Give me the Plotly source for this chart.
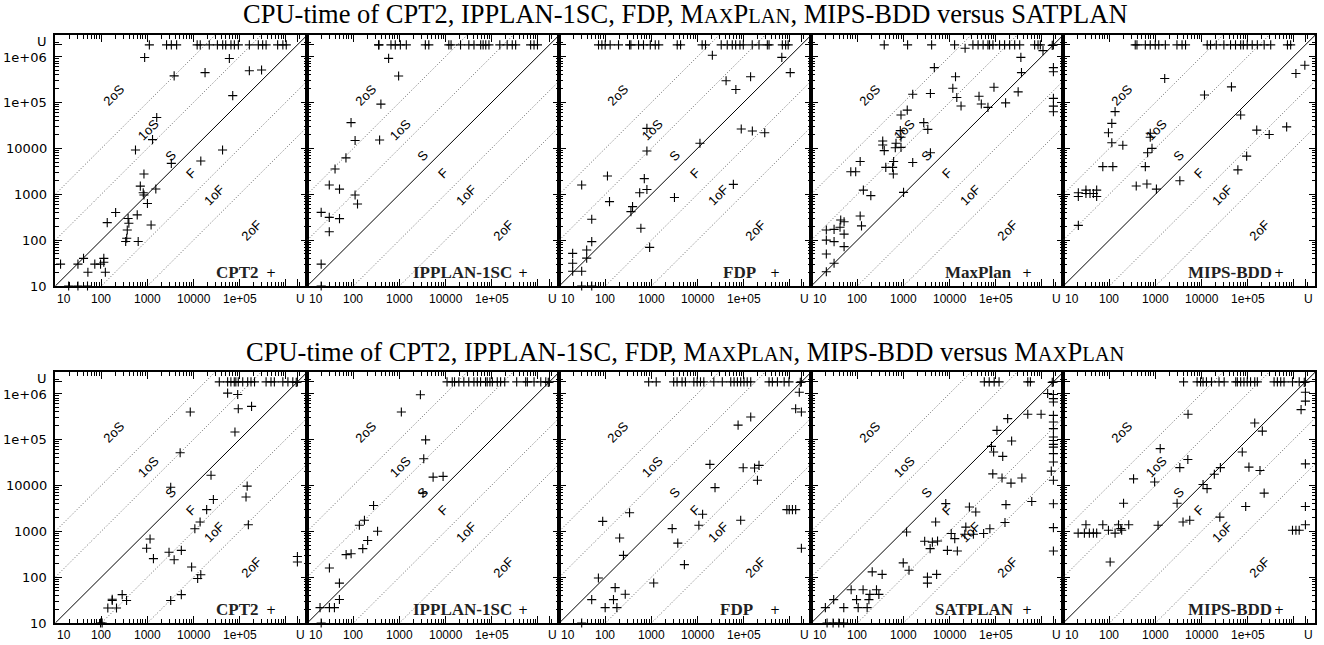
import math
import plotly.graph_objects as go

# ---------------- constants / tick labels ----------------
U = 1.8e6                      # "unsolved" value
AX_MIN_LOG, AX_MAX_LOG = 1.0, 6.47
major_vals = [10, 100, 1000, 10000, 100000, 1000000, U]
y_tick_text = ["10", "100", "1000", "10000", "1e+05", "1e+06", "U"]
x_tick_text = ["10", "100", "1000", "10000", "1e+05", "", "U"]
minor_vals = [m * 10 ** e for e in range(1, 7) for m in range(2, 10) if m * 10 ** e < 2.9e6]

ratio_lines = [100, 10, 1, 0.1, 0.01]
region_labels = ["2oS", "1oS", "S", "F", "1oF", "2oF"]

SC = '<span style="font-size:20.5px">'
top_title = f"CPU-time of CPT2, IPPLAN-1SC, FDP, M{SC}AX</span>P{SC}LAN</span>, MIPS-BDD versus SATPLAN"
bot_title = (f"CPU-time of CPT2, IPPLAN-1SC, FDP, M{SC}AX</span>P{SC}LAN</span>, MIPS-BDD versus "
             f"M{SC}AX</span>P{SC}LAN</span>")
top_names = ["CPT2", "IPPLAN-1SC", "FDP", "MaxPlan", "MIPS-BDD"]
bot_names = ["CPT2", "IPPLAN-1SC", "FDP", "SATPLAN", "MIPS-BDD"]

# ---------------- data: top row (versus SATPLAN) ----------------
# *_xu: x values of points lying on the y = U row ; *_yu: y values of points on the x = U column
t1_xu = [1100, 2600, 3300, 4300, 12000, 14000, 22000, 33000, 43000, 50000, 65000, 77000, 94000,
         163000, 255000, 317000, 376000, 670000, 870000, 1030000]
t1_yu = []
t1_x = [870, 3800, 60000, 17800, 163000, 300000, 71000, 1590, 1290, 550, 3300, 14400, 42700, 840, 700,
        810, 840, 1520, 1000, 204, 134, 380, 395, 600, 365, 355, 337, 630, 1200, 41, 13, 31, 72, 96, 113,
        113, 51, 122, 19.5, 31, 50]
t1_y = [955000, 380000, 910000, 447000, 490000, 510000, 141000, 47000, 15500, 9200, 4700, 5300, 9200, 2760,
        1500, 1080, 960, 1300, 630, 400, 240, 295, 233, 355, 166, 110, 93, 93, 214, 40, 30, 30, 30, 30, 40,
        33, 20, 20, 10, 10, 10]

t2_xu = [352, 360, 655, 812, 1047, 1410, 3650, 4340, 11800, 13200, 21200, 32100, 41500, 58000, 65500,
         74800, 87700, 151000, 218000, 281000, 333000, 704000, 834000, 990000]
t2_yu = []
t2_x = [582, 960, 396, 89, 109, 371, 69, 40, 30, 50, 109, 123, 20, 30, 50, 30, 20, 20]
t2_y = [912000, 376000, 92000, 36300, 14800, 15200, 6200, 3550, 1590, 1290, 960, 612, 402, 313, 294, 152,
        30, 10]

t3_xu = [71, 84, 99, 127, 193, 335, 358, 525, 672, 944, 1210, 1440, 3630, 4290, 12600, 14900, 32700,
         44200, 56800, 67400, 83400, 98500, 154000, 216000, 328000, 357000, 694000, 818000, 929000]
t3_yu = []
t3_x = [21000, 676000, 1030000, 41700, 142000, 68000, 89000, 155000, 288000, 797, 797, 11300, 111, 30.6,
        700, 797, 556, 3160, 60000, 123, 389, 359, 50.6, 590, 915, 50.6, 39.3, 39.3, 19.5, 19.5, 19.5,
        30.6, 30.6, 50.6]
t3_y = [1070000, 958000, 447000, 297000, 362000, 192000, 26300, 23800, 21900, 27200, 8740, 12900, 2500,
        1590, 2190, 1270, 1080, 850, 1640, 690, 537, 417, 284, 181, 69.6, 92.5, 60.9, 40.6, 51.5, 31.2,
        20.9, 20.9, 10, 10]

t4_xu = [383, 1230, 4090, 12900, 32200, 41700, 53600, 68300, 74000, 87600, 122000, 157000, 202000,
         260000, 334000, 704000, 834000, 937000, 1800000]
t4_yu = [575000, 468000, 123000, 83000, 62500]
t4_x = [1700000, 21800, 1070000, 4680, 354000, 365000, 13500, 1590, 3850, 11800, 92300, 309000, 14400,
        43700, 49000, 68300, 165000, 17800, 1210, 885, 855, 885, 690, 665, 885, 355, 355, 383, 2760, 3380,
        3850, 1590, 115, 72, 92, 414, 612, 582, 603, 135, 196, 1005, 115, 123, 21.2, 31.2, 42, 43.5, 51.5,
        51.5, 21.2, 31.2, 51.5, 21.2, 31.2, 21.2]
t4_y = [1750000, 1520000, 1350000, 575000, 958000, 447000, 362000, 151000, 157000, 204000, 214000,
        170000, 128000, 137000, 92200, 78000, 98000, 83500, 67900, 53100, 24300, 17400, 12900, 10300,
        10500, 14400, 11800, 8900, 36300, 25900, 8040, 4900, 5160, 3090, 3090, 3850, 5160, 3850, 2750,
        1230, 930, 1100, 335, 204, 166, 171, 190, 274, 252, 135, 100, 92.5, 72, 50, 31.2, 20.5]

t5_xu = [364, 397, 603, 771, 990, 1180, 1640, 2930, 3780, 4500, 13300, 15700, 20900, 30600, 42700,
         54700, 70800, 80800, 98300, 126000, 163000, 229000, 318000, 734000, 861000]
t5_yu = []
t5_x = [1750000, 1120000, 1590, 11600, 44700, 70800, 158000, 295000, 705000, 133, 113, 95.5, 113, 196,
        771, 771, 842, 676, 603, 72, 119, 383, 653, 1050, 3390, 61600, 95500, 21.2, 10, 21.2, 21.2, 31,
        31, 38, 45, 53, 53]
t5_y = [645000, 427000, 332000, 145000, 219000, 53100, 25000, 20000, 29400, 63000, 35000, 21800, 13200,
        11700, 21400, 17400, 10000, 8030, 4000, 4000, 4000, 1510, 1670, 1290, 1970, 3390, 6770, 209, 890,
        1080, 890, 1230, 1040, 1040, 1040, 1230, 890]

# ---------------- data: bottom row (versus MaxPlan) ----------------
b1_xu = [36300, 55000, 64800, 76700, 83000, 93700, 117000, 150000, 177000, 211000, 376000, 481000,
         569000, 869000, 1120000, 1430000, 1800000]
b1_yu = [282, 214]
b1_x = [1700000, 55000, 91000, 93700, 182000, 8500, 79400, 5130, 24000, 3200, 146000, 138000, 27000,
        19300, 13900, 10700, 155000, 1140, 960, 1350, 2940, 5440, 3800, 9100, 12300, 14400, 3200, 5440,
        172, 172, 138, 213, 283, 352, 96, 104]
b1_y = [1750000, 1020000, 955000, 468000, 525000, 398000, 145000, 51500, 16600, 9100, 9600, 5560, 4900,
        2960, 1590, 1130, 1380, 676, 425, 253, 347, 383, 239, 166, 93, 113, 31, 41.5, 31, 33, 21.2, 21.2,
        41.5, 31, 10, 10]

b2_xu = [10800, 14000, 15700, 19500, 25000, 32000, 41400, 49000, 57700, 74000, 80300, 92000, 104000,
         133000, 157000, 193000, 351000, 550000, 598000, 835000, 1170000, 1500000, 1800000]
b2_yu = []
b2_x = [1700000, 2850, 1100, 3700, 3370, 5380, 8860, 3250, 274, 135, 174, 335, 204, 160, 69.6, 89.3,
        30.2, 49.8, 49.8, 18.9, 30.2, 38.8, 20]
b2_y = [1750000, 944000, 396000, 98000, 38000, 15100, 15700, 6760, 3630, 1350, 1740, 1000, 630, 417,
        309, 324, 158, 74, 32.4, 21.6, 21.6, 21.6, 10]

b3_xu = [870, 1270, 3040, 3600, 4620, 5460, 8330, 9830, 11600, 13700, 22600, 34500, 52700, 62200, 73400,
         86600, 102000, 120000, 143000, 357000, 421000, 543000, 760000, 966000, 1800000]
b3_yu = [396000, 427]
b3_x = [1700000, 1620000, 1350000, 143000, 76000, 18600, 98000, 173000, 216000, 200000, 24000, 335,
        87.5, 12900, 10700, 86600, 2820, 870000, 980000, 1150000, 1350000, 204, 247, 3730, 5190, 70.6,
        163, 1120, 270, 50.5, 150, 99, 178, 30.6]
b3_y = [1750000, 1070000, 468000, 309000, 205000, 28700, 24200, 23800, 27200, 12900, 8900, 2520, 1640,
        2350, 1350, 1740, 1140, 2960, 2960, 2960, 2960, 710, 297, 550, 187, 96, 59, 74.4, 42.2, 32.3,
        32.3, 21.6, 21.6, 10]

b4_xu = [56900, 72700, 93200, 119000, 500000, 570000, 1800000]
b4_yu = [955000, 776000, 653000, 334000, 240000, 172000, 113000, 95000, 78000, 68000, 49000, 32300,
         12900, 3980, 1200, 372]
b4_x = [1700000, 1350000, 500000, 972000, 183000, 107000, 223000, 81400, 90700, 143000, 87000, 138000,
        216000, 372000, 1620000, 610000, 168000, 160000, 8300, 27000, 37200, 5000, 22600, 10900, 13000,
        55000, 75200, 33000, 21500, 1170, 2890, 4250, 5500, 3800, 9000, 14800, 990, 1320, 210, 345, 3320,
        3320, 5250, 73.3, 133, 260, 293, 187, 96, 178, 30.6, 20.2, 50.7, 104, 163, 22, 29.7, 39.5, 50.5]
b4_y = [1750000, 1000000, 353000, 353000, 285000, 158000, 92200, 70800, 53100, 42700, 17800, 14400,
        11200, 14400, 20400, 4460, 3800, 1550, 4000, 3380, 2620, 1590, 1230, 890, 690, 890, 1130, 860, 860,
        960, 605, 580, 613, 417, 383, 372, 204, 141, 130, 115, 100, 74, 115, 53, 53, 53, 42, 42, 32.3,
        32.3, 32.3, 21.6, 21.6, 21.6, 21.6, 10, 10, 10, 10]

b5_xu = [4080, 8030, 9530, 10800, 12800, 16500, 24000, 31000, 55400, 60000, 70800, 83400, 98300, 116000,
         143000, 163000, 376000, 444000, 524000, 618000, 944000, 1320000, 1800000]
b5_yu = [1070000, 686000, 29400, 3460, 1380]
b5_x = [1700000, 1450000, 5100, 143000, 209000, 1270, 5050, 3380, 960, 335, 76700, 107000, 186000,
        25700, 19000, 10800, 13200, 229000, 2950, 91000, 25000, 3970, 5560, 203, 1140, 944000, 1120000,
        1320000, 31, 72, 158, 263, 21, 28.7, 36.8, 45, 53, 95.5, 133, 177, 185, 104]
b5_y = [1750000, 447000, 355000, 229000, 152000, 63200, 36700, 24300, 11800, 13800, 53100, 25000, 21100,
        24300, 17400, 10400, 8470, 6760, 4070, 3460, 2030, 1590, 1730, 4070, 1350, 1050, 1050, 1050, 1380,
        1380, 1380, 1380, 910, 910, 910, 910, 910, 1050, 910, 1140, 1050, 214]

panels = [
    (t1_x, t1_y, t1_xu, t1_yu), (t2_x, t2_y, t2_xu, t2_yu), (t3_x, t3_y, t3_xu, t3_yu),
    (t4_x, t4_y, t4_xu, t4_yu), (t5_x, t5_y, t5_xu, t5_yu),
    (b1_x, b1_y, b1_xu, b1_yu), (b2_x, b2_y, b2_xu, b2_yu), (b3_x, b3_y, b3_xu, b3_yu),
    (b4_x, b4_y, b4_xu, b4_yu), (b5_x, b5_y, b5_xu, b5_yu),
]
panel_names = top_names + bot_names

# ---------------- layout geometry (pixels) ----------------
W, H = 1324, 645
PANEL_LEFT0, PANEL_W = 55.3, 252.0
ROW_TOP = [35.0, 372.0]
ROW_BOT = [286.0, 623.0]
XLABEL_Y = [298.5, 635.0]
TITLE_Y = [14.0, 352.0]
YLABEL_RIGHT = 49.0
# right end of each panel's name (fraction of panel width)
name_end = [0.808, 0.811, 0.779, 0.796, 0.830, 0.808, 0.811, 0.770, 0.803, 0.828]
# region label positions (log10 x, log10 y)
region_pos = [(2.26, 5.16), (3.03, 4.40), (3.51, 3.85), (3.94, 3.46), (4.44, 2.98), (5.25, 2.22)]

fig = go.Figure()
annotations = []
layout_axes = {}

line_x = [10 ** AX_MIN_LOG, 10 ** AX_MAX_LOG]

for k in range(1, 11):
    idx = k - 1
    row, col = divmod(idx, 5)
    xs, ys, xu, yu = panels[idx]
    xa = "x" if k == 1 else f"x{k}"
    ya = "y" if k == 1 else f"y{k}"
    xname = "xaxis" if k == 1 else f"xaxis{k}"
    yname = "yaxis" if k == 1 else f"yaxis{k}"

    # diagonal lines
    for r in ratio_lines:
        fig.add_trace(go.Scatter(
            x=line_x, y=[v * r for v in line_x], mode="lines", xaxis=xa, yaxis=ya,
            line=dict(color="black" if r == 1 else "#555555", width=1 if r == 1 else 0.9,
                      dash="solid" if r == 1 else "1px,2px"),
            hoverinfo="skip", showlegend=False))

    px = list(xs) + list(xu) + [U] * len(yu)
    py = list(ys) + [U] * len(xu) + list(yu)
    fig.add_trace(go.Scatter(
        x=px, y=py, mode="markers", xaxis=xa, yaxis=ya, cliponaxis=False,
        marker=dict(symbol="cross-thin", size=6.5, color="black", line=dict(width=1.1, color="black")),
        showlegend=False, name=panel_names[idx]))

    L = PANEL_LEFT0 + PANEL_W * col
    xdom = [L / W, (L + PANEL_W) / W]
    ydom = [1 - ROW_BOT[row] / H, 1 - ROW_TOP[row] / H]
    common = dict(type="log", range=[AX_MIN_LOG, AX_MAX_LOG], showline=True, linecolor="black",
                  linewidth=1.5, mirror="ticks", ticks="inside", ticklen=7, tickwidth=1.2,
                  tickcolor="black", tickvals=major_vals, showgrid=False, zeroline=False,
                  showticklabels=False,
                  minor=dict(ticks="inside", ticklen=4, tickwidth=1, tickcolor="black",
                             tickvals=minor_vals, showgrid=False))
    layout_axes[xname] = dict(common, domain=xdom, anchor=ya)
    layout_axes[yname] = dict(common, domain=ydom, anchor=xa)

    # x tick labels
    for v, t in zip(major_vals, x_tick_text):
        if not t:
            continue
        shift = 9 if v == 10 else (3 if v == U else 0)
        annotations.append(dict(x=math.log10(v), xref=xa, y=1 - XLABEL_Y[row] / H, yref="paper",
                                text=t, showarrow=False, xshift=shift, xanchor="center",
                                yanchor="middle",
                                font=dict(family="Liberation Sans", size=12, color="black")))
    # y tick labels (first column only)
    if col == 0:
        for v, t in zip(major_vals, y_tick_text):
            ysh = 3 if v == U else (-1 if v == 1000000 else 0)
            annotations.append(dict(x=YLABEL_RIGHT / W, xref="paper", y=math.log10(v), yref=ya,
                                    text=t, showarrow=False, xanchor="right", yanchor="middle",
                                    yshift=ysh,
                                    font=dict(family="DejaVu Sans", size=13, color="black")))

    # region labels
    for lab, (lx, ly) in zip(region_labels, region_pos):
        annotations.append(dict(x=lx, y=ly, xref=xa, yref=ya, text=lab, showarrow=False,
                                textangle=-45,
                                font=dict(family="Liberation Sans", size=13, color="black")))

    # panel name + key marker
    annotations.append(dict(x=name_end[idx], y=0.055, xref=f"{xa} domain", yref=f"{ya} domain",
                            text=f"<b>{panel_names[idx]}</b>", showarrow=False,
                            xanchor="right", yanchor="middle", xshift=2,
                            font=dict(family="Liberation Serif", size=17, color="#222222")))
    annotations.append(dict(x=0.856, y=0.05, xref=f"{xa} domain", yref=f"{ya} domain",
                            text="+", showarrow=False, xanchor="center", yanchor="middle",
                            font=dict(family="DejaVu Sans", size=12, color="black")))

for row, ttl in enumerate([top_title, bot_title]):
    annotations.append(dict(x=685 / W, y=1 - TITLE_Y[row] / H, xref="paper", yref="paper",
                            text=ttl, showarrow=False, xanchor="center", yanchor="middle",
                            font=dict(family="Liberation Serif", size=26.5, color="black")))

fig.update_layout(width=W, height=H, margin=dict(l=0, r=0, t=0, b=0),
                  paper_bgcolor="white", plot_bgcolor="white", showlegend=False,
                  annotations=annotations, **layout_axes)

fig.write_html("out.html")
